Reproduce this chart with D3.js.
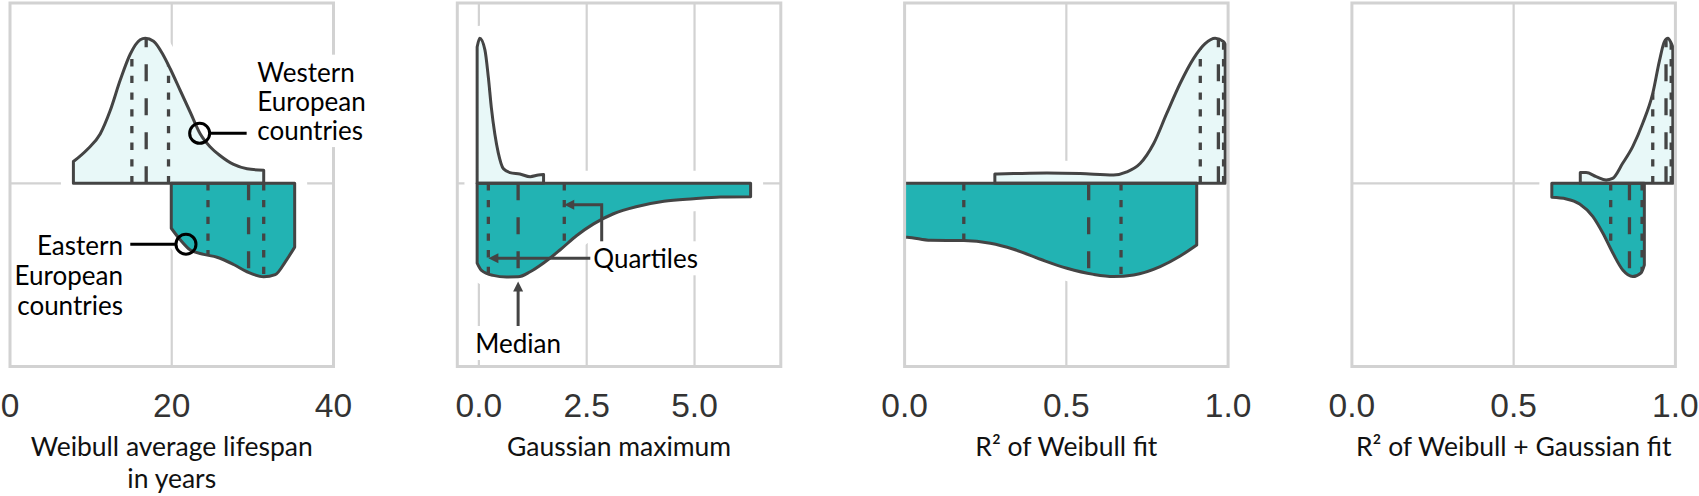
<!DOCTYPE html>
<html><head><meta charset="utf-8">
<script src="https://cdn.jsdelivr.net/npm/d3@7"></script>
<style>body{margin:0;background:#fff;} svg{display:block}</style>
</head><body><svg id="chart" width="1699" height="496"></svg>
<script>
// ---------------- DATA ----------------
// [value, relative density]; West = upper half, East = lower half
const titleLines = [["Weibull average lifespan","in years"],["Gaussian maximum"],["R² of Weibull fit"],["R² of Weibull + Gaussian fit"]];
const domains = [[0,40],[-0.5,7.0],[0,1],[0,1]];
const tickValues = [[0,20,40],[0,2.5,5],[0,0.5,1],[0,0.5,1]];
const tickFormats = ["d",".1f",".1f",".1f"];

const westLifespan = [[7.84,0.15],[9.49,0.23],[11.15,0.34],[12.38,0.50],[13.62,0.71],[14.86,0.89],[16.1,0.99],[16.72,1.0],[17.75,0.98],[18.99,0.88],[19.81,0.79],[21.05,0.64],[22.29,0.49],[23.53,0.34],[24.77,0.25],[26.0,0.19],[27.65,0.13],[29.31,0.10],[31.37,0.09]];
const eastLifespan = [[19.94,0.31],[21.05,0.39],[22.29,0.46],[23.94,0.49],[25.6,0.51],[27.65,0.56],[29.31,0.61],[31.37,0.645],[32.8,0.63],[34.06,0.54],[35.2,0.44]];
const westLifespanQ = [15.07,16.84,19.6];
const eastLifespanQ = [24.48,29.5,31.37];

const westGauss = [[-0.04,0.94],[0.02,1.0],[0.14,0.92],[0.22,0.73],[0.29,0.52],[0.37,0.34],[0.45,0.21],[0.57,0.10],[0.72,0.074],[0.95,0.064],[1.19,0.046],[1.38,0.057],[1.5,0.06]];
const eastGauss = [[-0.04,0.55],[0.06,0.60],[0.33,0.635],[0.64,0.646],[0.91,0.645],[1.19,0.61],[1.5,0.55],[1.88,0.46],[2.27,0.36],[2.66,0.28],[3.12,0.21],[3.67,0.16],[4.29,0.124],[4.98,0.106],[5.6,0.094],[6.3,0.092]];
const westGaussQ = [];
const eastGaussQ = [0.22,0.91,1.98];

const westR2W = [[0.279,0.064],[0.337,0.067],[0.44,0.071],[0.543,0.067],[0.646,0.057],[0.687,0.078],[0.728,0.136],[0.77,0.274],[0.81,0.48],[0.852,0.69],[0.893,0.86],[0.929,0.963],[0.96,1.0],[0.986,0.977],[0.991,0.96]];
const eastR2W = [[-0.05,0.37],[0.008,0.372],[0.08,0.393],[0.183,0.395],[0.265,0.414],[0.337,0.455],[0.42,0.524],[0.502,0.586],[0.584,0.628],[0.646,0.643],[0.708,0.632],[0.79,0.574],[0.852,0.501],[0.903,0.425]];
const westR2WQ = [0.914,0.97,0.986];
const eastR2WQ = [0.183,0.569,0.669];

const westR2WG = [[0.706,0.074],[0.724,0.074],[0.755,0.046],[0.786,0.023],[0.806,0.034],[0.837,0.138],[0.868,0.253],[0.899,0.414],[0.93,0.62],[0.951,0.848],[0.966,0.977],[0.977,1.0],[0.987,0.966],[0.992,0.94]];
const eastR2WG = [[0.618,0.097],[0.663,0.108],[0.704,0.143],[0.745,0.23],[0.776,0.345],[0.807,0.483],[0.838,0.6],[0.868,0.643],[0.894,0.617],[0.904,0.563]];
const westR2WGQ = [0.93,0.971,0.987];
const eastR2WGQ = [0.8,0.858,0.897];

const westLabel = ["Western","European","countries"];
const eastLabel = ["Eastern","European","countries"];
const westCallout = [23.45, 0.345];
const eastCallout = [21.76, 0.42];

// ---------------- LAYOUT ----------------
const C = {
  grid:"#d2d2d2", outline:"#444444", westFill:"#e8f8f8", eastFill:"#22b3b3",
  tick:"#333333", title:"#111111", ann:"#000000", arrow:"#444444"
};
const panelX0 = 10, panelStep = 447.3, panelW = 323.5;
const frameTop = 3, frameBottom = 366.5, mid = 183.3, peakPx = 145;
const svg = d3.select("#chart");
const defs = svg.append("defs");
const yDens = d3.scaleLinear().domain([-1,1]).range([mid+peakPx, mid-peakPx]);

const series = [
  [westLifespan, eastLifespan, westLifespanQ, eastLifespanQ],
  [westGauss, eastGauss, westGaussQ, eastGaussQ],
  [westR2W, eastR2W, westR2WQ, eastR2WQ],
  [westR2WG, eastR2WG, westR2WGQ, eastR2WGQ]
];
const xScales = [];

series.forEach((s, i) => {
  const x0 = panelX0 + i*panelStep;
  const x = d3.scaleLinear().domain(domains[i]).range([x0, x0+panelW]);
  xScales.push(x);
  const g = svg.append("g");

  // gridlines
  g.selectAll("line.v").data(tickValues[i].filter(t => t > domains[i][0] && t < domains[i][1]))
    .join("line").attr("x1", d=>x(d)).attr("x2", d=>x(d)).attr("y1", frameTop).attr("y2", frameBottom)
    .attr("stroke", C.grid).attr("stroke-width", 2.2);
  g.append("line").attr("x1", x0).attr("x2", x0+panelW).attr("y1", mid).attr("y2", mid)
    .attr("stroke", C.grid).attr("stroke-width", 2.2);

  // clip to panel
  defs.append("clipPath").attr("id", "pc"+i).append("rect")
    .attr("x", x0).attr("y", frameTop).attr("width", panelW).attr("height", frameBottom-frameTop);
  const vg = g.append("g").attr("clip-path", `url(#pc${i})`);

  const halves = [
    {data: s[0], q: s[2], sign: 1, fill: C.westFill},
    {data: s[1], q: s[3], sign: -1, fill: C.eastFill}
  ];
  halves.forEach(h => {
    h.area = d3.area().x(d=>x(d[0])).y0(mid).y1(d=>yDens(h.sign*d[1])).curve(d3.curveMonotoneX);
  });
  // white halos
  halves.forEach(h => {
    vg.append("path").attr("d", h.area(h.data)).attr("fill", "#fff")
      .attr("stroke", "#fff").attr("stroke-width", 25).attr("stroke-linejoin", "round");
  });
  halves.forEach((h, k) => {
    vg.append("path").attr("d", h.area(h.data)).attr("fill", h.fill);
    const cid = `vc${i}_${k}`;
    defs.append("clipPath").attr("id", cid).append("path").attr("d", h.area(h.data));
    vg.append("g").attr("clip-path", `url(#${cid})`)
      .selectAll("line").data(h.q).join("line")
      .attr("x1", d=>x(d)).attr("x2", d=>x(d))
      .attr("y1", mid).attr("y2", yDens(h.sign*1.05))
      .attr("stroke", C.outline).attr("stroke-width", 3.3)
      .attr("stroke-dasharray", (d,j) => j===1 ? "17,17" : "7.3,9.4");
  });
  halves.forEach(h => {
    vg.append("path").attr("d", h.area(h.data)).attr("fill", "none")
      .attr("stroke", C.outline).attr("stroke-width", 3).attr("stroke-linejoin", "round");
  });

  // frame
  g.append("rect").attr("x", x0).attr("y", frameTop).attr("width", panelW).attr("height", frameBottom-frameTop)
    .attr("fill", "none").attr("stroke", C.grid).attr("stroke-width", 3);

  // tick labels
  g.selectAll("text.tick").data(tickValues[i]).join("text")
    .attr("x", d=>x(d)).attr("y", 416.7).attr("text-anchor", "middle")
    .attr("font-family", "'Liberation Sans', Arial, sans-serif").attr("font-size", 33.5)
    .attr("fill", C.tick).text(d=>d3.format(tickFormats[i])(d));

  // title
  g.selectAll("text.title").data(titleLines[i]).join("text")
    .attr("x", x0+panelW/2).attr("y", (d,j)=>456 + j*31.5).attr("text-anchor", "middle")
    .attr("font-family", "Lato, sans-serif").attr("font-size", 26.5).attr("fill", C.title).text(d=>d);
});

// ---------------- ANNOTATIONS ----------------
const ann = svg.append("g");
function textBlock(parent, lines, x, y0, dy, anchor) {
  const tg = parent.append("g");
  const bg = tg.append("rect").attr("fill", "#fff");
  lines.forEach((t, j) => {
    tg.append("text").attr("x", x).attr("y", y0 + j*dy).attr("text-anchor", anchor)
      .attr("font-family", "Lato, sans-serif").attr("font-size", 26).attr("fill", C.ann).text(t);
  });
  const bb = tg.node().getBBox();
  bg.attr("x", bb.x-2).attr("y", bb.y-1).attr("width", bb.width+4).attr("height", bb.height+2);
  return tg;
}
// panel 1 callouts
{
  const x = xScales[0];
  const wx = x(westCallout[0]), wy = yDens(westCallout[1]);
  ann.append("line").attr("x1", wx+10).attr("x2", wx+47).attr("y1", wy).attr("y2", wy)
    .attr("stroke", C.ann).attr("stroke-width", 3);
  ann.append("circle").attr("cx", wx).attr("cy", wy).attr("r", 10).attr("fill", "none")
    .attr("stroke", C.ann).attr("stroke-width", 3);
  textBlock(ann, westLabel, wx+57.7, wy-51.6, 29.2, "start");

  const ex = x(eastCallout[0]), ey = yDens(-eastCallout[1]);
  ann.append("line").attr("x1", ex-55.7).attr("x2", ex-10).attr("y1", ey).attr("y2", ey)
    .attr("stroke", C.ann).attr("stroke-width", 3);
  ann.append("circle").attr("cx", ex).attr("cy", ey).attr("r", 10).attr("fill", "none")
    .attr("stroke", C.ann).attr("stroke-width", 3);
  textBlock(ann, eastLabel, ex-63, ey+10.8, 30, "end");
}
// panel 2 quartile / median arrows
{
  const x = xScales[1];
  const q1x = x(eastGaussQ[0]), medx = x(eastGaussQ[1]), q3x = x(eastGaussQ[2]);
  const textX = 593.3, textBase = 268.3;
  const q1y = yDens(-0.517), q3y = yDens(-0.148);
  const cornerX = 601.7, cornerBottom = 243.3;
  const head = (tx, ty, dir) => {
    const L = 10, hw = 5;
    const pts = dir === 'left' ? [[tx,ty],[tx+L,ty-hw],[tx+L,ty+hw]] : [[tx,ty],[tx-hw,ty+L],[tx+hw,ty+L]];
    ann.append("polygon").attr("points", pts.map(p=>p.join(",")).join(" ")).attr("fill", C.arrow);
  };
  ann.append("line").attr("x1", textX-3).attr("x2", q1x+6).attr("y1", q1y).attr("y2", q1y)
    .attr("stroke", C.arrow).attr("stroke-width", 3);
  head(q1x, q1y, 'left');
  ann.append("path").attr("d", `M${cornerX},${cornerBottom}V${q3y}H${q3x+6}`).attr("fill", "none")
    .attr("stroke", C.arrow).attr("stroke-width", 3);
  head(q3x, q3y, 'left');
  ann.append("line").attr("x1", medx).attr("x2", medx).attr("y1", 328.3).attr("y2", 288)
    .attr("stroke", C.arrow).attr("stroke-width", 3);
  head(medx, 281.5, 'up');
  textBlock(ann, ["Quartiles"], textX, textBase, 0, "start");
  textBlock(ann, ["Median"], medx, 353, 0, "middle");
}
</script></body></html>
